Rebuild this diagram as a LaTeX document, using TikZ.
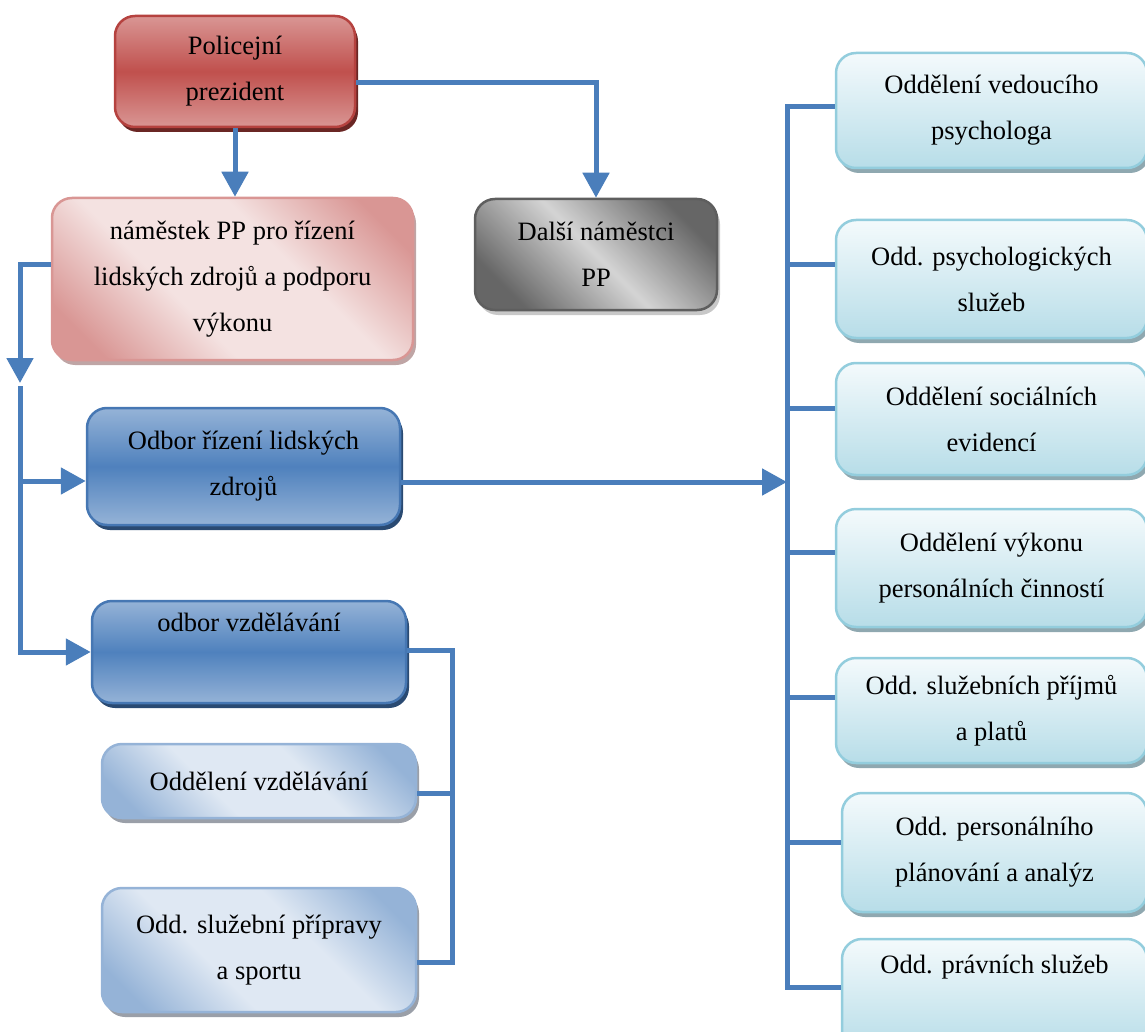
\documentclass[tikz,border=0pt]{standalone}
\usepackage{fontspec}
\setmainfont{Liberation Serif}
\usetikzlibrary{arrows.meta,shadows}
\definecolor{lineblue}{HTML}{4A7EBB}
\definecolor{redlight}{HTML}{D99694}
\definecolor{redmid}{HTML}{C0504D}
\definecolor{redborder}{HTML}{B5423F}
\definecolor{redshadow}{HTML}{6A2624}
\definecolor{pinklight}{HTML}{F4E2E1}
\definecolor{pinkdark}{HTML}{D99694}
\definecolor{pinkshadow}{HTML}{BFA5A5}
\definecolor{greylight}{HTML}{D4D4D4}
\definecolor{greydark}{HTML}{666666}
\definecolor{greyborder}{HTML}{5E5E5E}
\definecolor{greyshadow}{HTML}{C8C8C8}
\definecolor{bluelight}{HTML}{95B3D7}
\definecolor{bluemid}{HTML}{4F81BD}
\definecolor{blueborder}{HTML}{4677B3}
\definecolor{blueshadow}{HTML}{2A4A72}
\definecolor{pblight}{HTML}{DFE8F3}
\definecolor{pbdark}{HTML}{95B3D7}
\definecolor{pbshadow}{HTML}{9A9FA8}
\definecolor{cytop}{HTML}{F4FAFC}
\definecolor{cybottom}{HTML}{B7DDE8}
\definecolor{cyborder}{HTML}{93CDDD}
\definecolor{cyshadow}{HTML}{8FA8B0}
\pgfdeclareverticalshading{pinkdiag}{100bp}{color(0bp)=(pinkdark); color(22bp)=(pinkdark); color(40bp)=(pinklight); color(60bp)=(pinklight); color(78bp)=(pinkdark); color(100bp)=(pinkdark)}
\pgfdeclareverticalshading{pbdiag}{100bp}{color(0bp)=(pbdark); color(22bp)=(pbdark); color(40bp)=(pblight); color(60bp)=(pblight); color(78bp)=(pbdark); color(100bp)=(pbdark)}
\begin{document}
\begin{tikzpicture}[x=1pt,y=-1pt,
  box/.style={rectangle, rounded corners=20pt, line width=2.5pt, inner sep=0pt,
    align=center, font=\fontsize{26.5}{46}\selectfont, text=black},
  shad/.style={general shadow={fill=#1, shadow xshift=3pt, shadow yshift=-5pt}},
  conn/.style={draw=lineblue, line width=5pt},
  arr/.style={conn, -{Triangle[length=25pt,width=26pt]}},
  redbox/.style={box, draw=redborder, top color=redlight, bottom color=redlight, middle color=redmid, shad=redshadow},
  pinkbox/.style={box, draw=pinkdark, shade, shading=pinkdiag, shading angle=-45, shad=pinkshadow},
  greybox/.style={box, draw=greyborder, top color=greydark, bottom color=greydark, middle color=greylight, shading angle=-45, shad=greyshadow},
  bluebox/.style={box, draw=blueborder, top color=bluelight, bottom color=bluelight, middle color=bluemid, shad=blueshadow},
  pbbox/.style={box, draw=pbdark, shade, shading=pbdiag, shading angle=-45, shad=pbshadow},
  cybox/.style={box, draw=cyborder, top color=cytop, bottom color=cybottom, shad=cyshadow}
]
\useasboundingbox (0,0) rectangle (1145,1032);
\clip (0,0) rectangle (1145,1032);

% left / top nodes
\node[redbox, minimum width=240pt, minimum height=111pt] (P1) at (235,71.5) {Policejní\\prezident};
\node[pinkbox, minimum width=361pt, minimum height=162pt] (P2) at (232.5,279) {náměstek PP pro řízení\\lidských zdrojů a podporu\\výkonu};
\node[greybox, minimum width=242pt, minimum height=111pt] (P3) at (596,254.5) {Další náměstci\\PP};
\node[bluebox, minimum width=313pt, minimum height=117pt] (P4) at (243.5,466.5) {Odbor řízení lidských\\zdrojů};
\node[bluebox, minimum width=314pt, minimum height=102pt] (P5) at (249,652) {odbor vzdělávání\\\strut};
\node[pbbox, minimum width=314pt, minimum height=74pt] (P6) at (259,781) {Oddělení vzdělávání};
\node[pbbox, minimum width=314pt, minimum height=124pt] (P7) at (259,950) {Odd. služební přípravy\\a sportu};

% right column
\node[cybox, minimum width=311pt, minimum height=115pt] (R1) at (991.5,110.5) {Oddělení vedoucího\\psychologa};
\node[cybox, minimum width=311pt, minimum height=118pt] (R2) at (991.5,279) {Odd. psychologických\\služeb};
\node[cybox, minimum width=311pt, minimum height=112pt] (R3) at (991.5,419) {Oddělení sociálních\\evidencí};
\node[cybox, minimum width=311pt, minimum height=118pt] (R4) at (991.5,568) {Oddělení výkonu\\personálních činností};
\node[cybox, minimum width=311pt, minimum height=105pt] (R5) at (991.5,710.5) {Odd. služebních příjmů\\a platů};
\node[cybox, minimum width=305pt, minimum height=119pt] (R6) at (994.5,852.5) {Odd. personálního\\plánování a analýz};
\node[cybox, minimum width=305pt, minimum height=111pt] (R7) at (994.5,994.5) {Odd. právních služeb\\\strut};

% connectors from the top
\draw[arr] (P1.south) -- (P1.south |- P2.north);
\coordinate (p1r) at ([yshift=-11.5pt]P1.east);
\draw[arr] (p1r) -| (P3.north);

% left bus
\coordinate (p2l) at ([yshift=14pt]P2.west);
\coordinate (j1) at (20,383);
\draw[arr] (p2l) -| (j1);
\coordinate (j2) at (20,386);
\coordinate (j3) at (20,481);
\draw[arr] (j2) |- (P5.west);
\draw[arr] (j3) -- (j3 -| P4.west);

% Odbor -> right bus
\coordinate (bt) at (787,107);
\coordinate (p4r) at ([yshift=-15.5pt]P4.east);
\draw[arr] (p4r) -- (p4r -| bt);
\coordinate (r1) at ([yshift=3.5pt]R1.west);
\coordinate (r2) at ([yshift=14pt]R2.west);
\coordinate (r3) at ([yshift=11pt]R3.west);
\coordinate (r4) at ([yshift=16pt]R4.west);
\coordinate (r5) at ([yshift=13.5pt]R5.west);
\coordinate (r6) at ([yshift=10.5pt]R6.west);
\coordinate (r7) at ([yshift=7.5pt]R7.west);
\draw[conn] (r1) -| (r7 -| bt) -- (r7);
\foreach \r in {r2,r3,r4,r5,r6} \draw[conn] (\r) -- (\r -| bt);

% odbor vzdělávání -> sub bus
\coordinate (sb) at (452,650);
\coordinate (p5r) at ([yshift=2pt]P5.east);
\coordinate (p6r) at ([yshift=-12pt]P6.east);
\coordinate (p7r) at ([yshift=-12pt]P7.east);
\draw[conn] (p5r) -| (p7r -| sb) -- (p7r);
\draw[conn] (p6r) -- (p6r -| sb);
\end{tikzpicture}
\end{document}
